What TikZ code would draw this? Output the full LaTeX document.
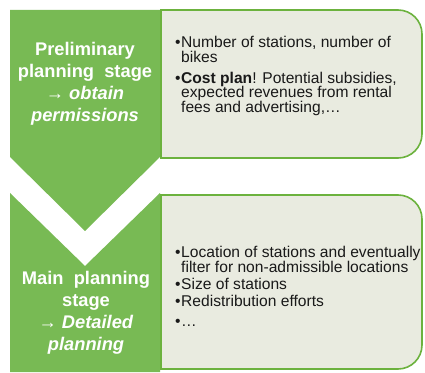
\documentclass[tikz,border=0pt]{standalone}
\usepackage{fontspec}
\setmainfont{Liberation Sans}
\usepackage{tikz}
\definecolor{stagegreen}{RGB}{120,186,84}
\definecolor{boxfill}{RGB}{233,235,224}
\definecolor{boxline}{RGB}{108,178,62}
\newcommand{\bul}{\makebox[6pt][l]{•}}
\newcommand{\ind}{\hspace*{6pt}}
\tikzset{
    stage/.style={fill=stagegreen, draw=none},
    itembox/.style={fill=boxfill, draw=boxline, line width=1.6pt},
    stagetext/.style={text=white, font=\fontsize{18.3}{22}\selectfont\bfseries, align=center, inner sep=0pt},
    itemtext/.style={text=black!90, font=\fontsize{15.6}{14.8}\selectfont, align=left, inner sep=0pt, anchor=north west}
}

\begin{document}
\begin{tikzpicture}[x=1pt, y=1pt]
    \useasboundingbox (0,0) rectangle (425,372);

    \fill[stage] (10,362) -- (160,362) -- (160,215) -- (85,141) -- (10,215) -- cycle;
    \fill[stage] (10,179) -- (85,106) -- (160,179) -- (160,0) -- (10,0) -- cycle;

    \draw[itembox] (161,362) -- (398,362) arc[start angle=90, end angle=0, radius=24]
        -- (422,238) arc[start angle=0, end angle=-90, radius=24] -- (161,214) -- cycle;
    \draw[itembox] (161,177) -- (398,177) arc[start angle=90, end angle=0, radius=24]
        -- (422,27) arc[start angle=0, end angle=-90, radius=24] -- (161,3) -- cycle;

    \node[stagetext] (prelim) at (85,288) {Preliminary\\planning~ stage\\{\mdseries →} \textit{obtain}\\\textit{permissions}};
    \node[stagetext] (main) at (86,59) {Main~ planning\\stage\\{\mdseries →} \textit{Detailed}\\\textit{planning}};

    \node[itemtext] (prelimitems) at (175,336) {\bul Number of stations, number of\\
        \ind bikes\\[6pt]
        \bul\textbf{Cost plan}! Potential subsidies,\\
        \ind expected revenues from rental\\
        \ind fees and advertising,…};
    \node[itemtext] (mainitems) at (175,126) {\bul Location of stations and eventually\\
        \ind filter for non-admissible locations\\[2.5pt]
        \bul Size of stations\\[2.5pt]
        \bul Redistribution efforts\\[5pt]
        \bul …};
\end{tikzpicture}
\end{document}
